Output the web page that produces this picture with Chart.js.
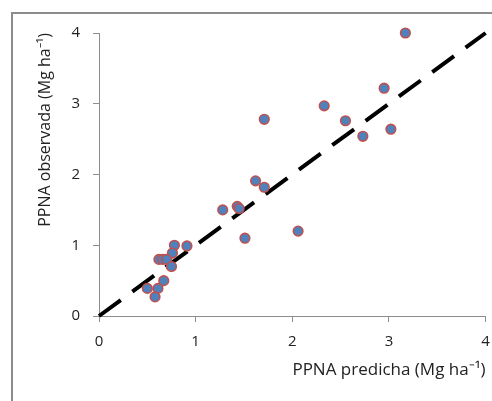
<!DOCTYPE html>
<html>
<head>
<meta charset="utf-8">
<script src="https://cdn.jsdelivr.net/npm/chart.js@4/dist/chart.umd.min.js"></script>
<style>
  html, body { margin: 0; padding: 0; background: #fff; }
  #wrap { position: relative; width: 492px; height: 401px; overflow: hidden; }
  #frame { position: absolute; left: 11px; top: 12px; width: 600px; height: 600px; border: 2px solid #8c8c8c; }
  #chart { position: absolute; left: 0; top: 0; }
</style>
</head>
<body>
<div id="wrap">
  <div id="frame"></div>
  <canvas id="chart" width="492" height="401"></canvas>
</div>
<script>
// PPNA predicha (x) vs PPNA observada (y), Mg ha-1
const predicha = [0.78, 0.91, 0.76, 0.62, 0.66, 0.70, 0.75, 0.67, 0.50, 0.61, 0.58,
                  1.28, 1.43, 1.45, 1.51, 1.62, 1.71, 2.06,
                  1.71, 2.33, 2.55, 2.73, 2.95, 3.02, 3.17];
const observada = [1.00, 0.99, 0.89, 0.80, 0.80, 0.80, 0.70, 0.50, 0.39, 0.39, 0.27,
                   1.50, 1.55, 1.52, 1.10, 1.91, 1.82, 1.20,
                   2.78, 2.97, 2.76, 2.54, 3.22, 2.64, 4.00];

// 1:1 line
const lineX = [0, 4];
const lineY = [0, 4];

const axisTicks = [0, 1, 2, 3, 4];

const fontFamily = "'Open Sans', sans-serif";

const points = predicha.map((x, i) => ({ x: x, y: observada[i] }));
const oneToOne = lineX.map((x, i) => ({ x: x, y: lineY[i] }));

new Chart(document.getElementById("chart"), {
    type: "scatter",
    data: {
        datasets: [
            {
                label: "1:1",
                data: oneToOne,
                showLine: true,
                borderColor: "#000",
                borderWidth: 4,
                borderDash: [27, 14.3],
                pointRadius: 0,
                order: 2
            },
            {
                label: "PPNA",
                data: points,
                backgroundColor: "#4F81BD",
                borderColor: "#C0504D",
                borderWidth: 1.6,
                pointRadius: 4.8,
                order: 1
            }
        ]
    },
    options: {
        responsive: false,
        animation: false,
        clip: false,
        layout: { padding: { left: 0, right: 6, top: 33, bottom: 0 } },
        plugins: { legend: { display: false }, tooltip: { enabled: false } },
        scales: {
            x: {
                type: "linear",
                min: 0, max: 4,
                afterBuildTicks: (s) => { s.ticks = axisTicks.map(v => ({ value: v })); },
                afterFit: (s) => { s.height = 401 - 316; s.paddingLeft = 0; s.paddingRight = 0; },
                grid: { drawOnChartArea: false, drawTicks: true, tickLength: 6, color: "#8c8c8c" },
                border: { color: "#8c8c8c", width: 1 },
                ticks: { color: "#222", font: { family: fontFamily, size: 15 }, padding: 11, maxRotation: 0 },
                title: {
                    display: true, text: "PPNA predicha (Mg ha\u207B\u00B9)", align: "end",
                    color: "#222", font: { family: fontFamily, size: 17 },
                    padding: { top: 0, bottom: 21 }
                }
            },
            y: {
                type: "linear",
                min: 0, max: 4,
                afterBuildTicks: (s) => { s.ticks = axisTicks.map(v => ({ value: v })); },
                afterFit: (s) => { s.width = 99; s.paddingTop = 0; s.paddingBottom = 0; },
                grid: { drawOnChartArea: false, drawTicks: true, tickLength: 6, color: "#8c8c8c" },
                border: { color: "#8c8c8c", width: 1 },
                ticks: { color: "#222", font: { family: fontFamily, size: 15 }, padding: 13 },
                title: {
                    display: true, text: "PPNA observada (Mg ha\u207B\u00B9)", align: "end",
                    color: "#222", font: { family: fontFamily, size: 16 },
                    padding: { top: 36, bottom: 0 }
                }
            }
        }
    }
});
</script>
</body>
</html>
